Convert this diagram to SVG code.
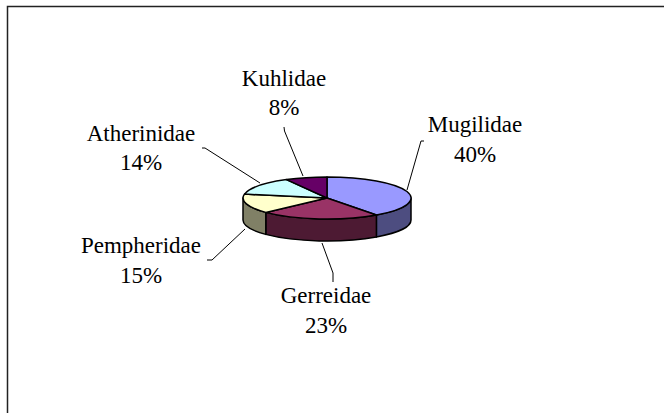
<svg xmlns="http://www.w3.org/2000/svg" width="664" height="413" viewBox="0 0 664 413">
  <style>
    .frame { fill: #ffffff; stroke: #222222; stroke-width: 1.5; }
    .slice { stroke: #000000; stroke-width: 1.5; stroke-linejoin: round; }
    .lbl { font-family: "Liberation Serif", "DejaVu Serif", serif; font-size: 23px; fill: #000000; text-anchor: middle; }
    .lead { fill: none; stroke: #000000; stroke-width: 1; }
  </style>

  <rect width="664" height="413" fill="#ffffff"/>
  <!-- chart area frame (right and bottom edges run off the canvas) -->
  <rect class="frame" x="7.5" y="6.5" width="700" height="450"/>

  <!-- front side walls of the 3D pie -->
  <g id="sides">
    <path class="slice" fill="#4D4D80" d="M411,198 A84,21 0 0 1 376.4,215 L376.4,237 A84,21 0 0 0 411,220 Z"/>
    <path class="slice" fill="#4D1A33" d="M376.4,215 A84,21 0 0 1 265.8,212.4 L265.8,234.4 A84,21 0 0 0 376.4,237 Z"/>
    <path class="slice" fill="#808066" d="M265.8,212.4 A84,21 0 0 1 243,198 L243,220 A84,21 0 0 0 265.8,234.4 Z"/>
  </g>

  <!-- top faces with their labels -->
  <g id="mugilidae">
    <path class="slice" fill="#9999FF" d="M327,198 L327,177 A84,21 0 0 1 376.4,215 Z"/>
    <text class="lbl" font-family="Liberation Serif, DejaVu Serif, serif" x="475" y="132">Mugilidae</text>
    <text class="lbl" font-family="Liberation Serif, DejaVu Serif, serif" x="475" y="162">40%</text>
  </g>
  <g id="gerreidae">
    <path class="slice" fill="#993366" d="M327,198 L376.4,215 A84,21 0 0 1 265.8,212.4 Z"/>
    <text class="lbl" font-family="Liberation Serif, DejaVu Serif, serif" x="326" y="303">Gerreidae</text>
    <text class="lbl" font-family="Liberation Serif, DejaVu Serif, serif" x="326" y="333">23%</text>
  </g>
  <g id="pempheridae">
    <path class="slice" fill="#FFFFCC" d="M327,198 L265.8,212.4 A84,21 0 0 1 244.5,194.1 Z"/>
    <text class="lbl" font-family="Liberation Serif, DejaVu Serif, serif" x="141" y="253">Pempheridae</text>
    <text class="lbl" font-family="Liberation Serif, DejaVu Serif, serif" x="141" y="283">15%</text>
  </g>
  <g id="atherinidae">
    <path class="slice" fill="#CCFFFF" d="M327,198 L244.5,194.1 A84,21 0 0 1 286.5,179.6 Z"/>
    <text class="lbl" font-family="Liberation Serif, DejaVu Serif, serif" x="141" y="141">Atherinidae</text>
    <text class="lbl" font-family="Liberation Serif, DejaVu Serif, serif" x="141" y="170">14%</text>
  </g>
  <g id="kuhlidae">
    <path class="slice" fill="#660066" d="M327,198 L286.5,179.6 A84,21 0 0 1 327,177 Z"/>
    <text class="lbl" font-family="Liberation Serif, DejaVu Serif, serif" x="284" y="86">Kuhlidae</text>
    <text class="lbl" font-family="Liberation Serif, DejaVu Serif, serif" x="284" y="115">8%</text>
  </g>

  <!-- leader lines -->
  <g id="connectors">
    <polyline class="lead" points="284,127 284.5,131 303,176"/>
    <polyline class="lead" points="424,141 421,141 407,190"/>
    <polyline class="lead" points="202,148 205,148 260,183"/>
    <polyline class="lead" points="207,260 212,260 245,229"/>
    <polyline class="lead" points="322,243 333,273 333,282"/>
  </g>
</svg>
